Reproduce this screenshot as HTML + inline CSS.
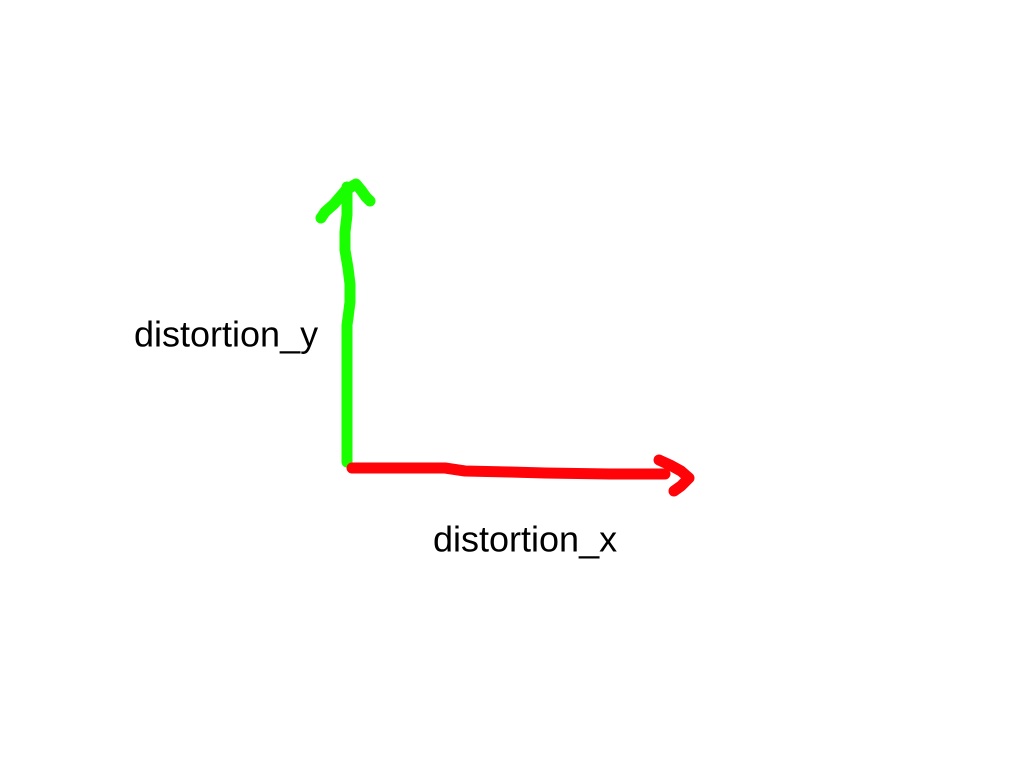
<!DOCTYPE html>
<html lang="en">
<head>
<meta charset="utf-8">
<title>distortion axes</title>
<style>
html,body{margin:0;padding:0;background:#fff;}
svg{display:block;}
text{font-family:"Liberation Sans",Arial,sans-serif;font-size:36px;fill:#000;}
polyline{fill:none;stroke-width:11;stroke-linecap:round;stroke-linejoin:round;}
.g{stroke:#19ff00;}
.r{stroke:#ff0308;}
.head{stroke-width:12.5;}
</style>
</head>
<body>
<svg width="1024" height="768" viewBox="0 0 1024 768" xmlns="http://www.w3.org/2000/svg">
  <rect width="1024" height="768" fill="#fff"/>
  <polyline class="g" points="347,462 347,325 348,318 350,302 350,284 348,268 345,250 345,232 347,215 347,187"/>
  <polyline class="g" points="321,218 325,212 334,204 346,190 356,184 361,190 366,197 370,201"/>
  <polyline class="r" points="352,468 445,468 465,471 510,472 545,473 610,474 665,474"/>
  <polyline class="r" points="659,460 670,465 681,471 689,478 681,486 674,491"/>
  <text x="134" y="346.5">distortion_y</text>
  <text x="433" y="551.5">distortion_x</text>
</svg>
</body>
</html>
